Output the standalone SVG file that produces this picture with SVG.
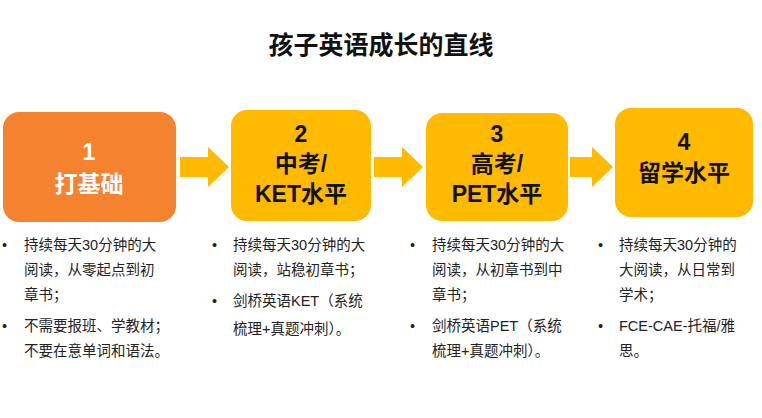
<svg xmlns="http://www.w3.org/2000/svg" width="762" height="418" viewBox="0 0 762 418">
<style>
.t{font-family:"Liberation Sans","Noto Sans CJK SC",sans-serif}
.h{font-size:23px;font-weight:bold;text-anchor:middle}
.b{font-size:14.5px;fill:#222}
.ar{fill:#FFBA00}
</style>
<rect width="762" height="418" fill="#fff"/>
<text class="t" x="381" y="54" font-size="25" font-weight="bold" text-anchor="middle" fill="#111">孩子英语成长的直线</text>
<g id="connectors">
<polygon class="ar" points="180,157 208,157 208,147 229,167 208,187 208,177 180,177"/>
<polygon class="ar" points="374,157 402,157 402,147 423,167 402,187 402,177 374,177"/>
<polygon class="ar" points="570,157 592,157 592,147 613,167 592,187 592,177 570,177"/>
</g>
<g id="n1"><rect x="3" y="112" width="173" height="110" rx="16" fill="#F5822F"/>
<text class="t h" x="89" y="160" fill="#fff">1</text><text class="t h" x="89" y="192" fill="#fff">打基础</text></g>
<g id="n2"><rect x="231" y="110" width="140" height="111" rx="16" fill="#FFBA00"/>
<text class="t h" x="301" y="142" fill="#111">2</text><text class="t h" x="301" y="172" fill="#111">中考/</text><text class="t h" x="301" y="202" fill="#111">KET水平</text></g>
<g id="n3"><rect x="426" y="113" width="142" height="108" rx="16" fill="#FFBA00"/>
<text class="t h" x="497" y="142" fill="#111">3</text><text class="t h" x="497" y="172" fill="#111">高考/</text><text class="t h" x="497" y="202" fill="#111">PET水平</text></g>
<g id="n4"><rect x="615" y="108" width="138" height="109" rx="16" fill="#FFBA00"/>
<text class="t h" x="684" y="150" fill="#111">4</text><text class="t h" x="684" y="181" fill="#111">留学水平</text></g>
<g id="list1" class="t b">
<text x="2" y="250">•</text><text x="24" y="250">持续每天30分钟的大</text>
<text x="24" y="275">阅读，从零起点到初</text><text x="24" y="300">章书；</text>
<text x="2" y="331">•</text><text x="24" y="331">不需要报班、学教材；</text>
<text x="24" y="356">不要在意单词和语法。</text></g>
<g id="list2" class="t b">
<text x="212" y="250">•</text><text x="233" y="250">持续每天30分钟的大</text>
<text x="233" y="275">阅读，站稳初章书；</text>
<text x="212" y="306">•</text><text x="233" y="306">剑桥英语KET（系统</text>
<text x="233" y="334">梳理+真题冲刺）。</text></g>
<g id="list3" class="t b">
<text x="410" y="250">•</text><text x="432" y="250">持续每天30分钟的大</text>
<text x="432" y="275">阅读，从初章书到中</text><text x="432" y="300">章书；</text>
<text x="410" y="331">•</text><text x="432" y="331">剑桥英语PET（系统</text>
<text x="432" y="356">梳理+真题冲刺）。</text></g>
<g id="list4" class="t b">
<text x="598" y="250">•</text><text x="619" y="250">持续每天30分钟的</text>
<text x="619" y="275">大阅读，从日常到</text><text x="619" y="300">学术；</text>
<text x="598" y="331">•</text><text x="619" y="331">FCE-CAE-托福/雅</text>
<text x="619" y="356">思。</text></g>
</svg>
